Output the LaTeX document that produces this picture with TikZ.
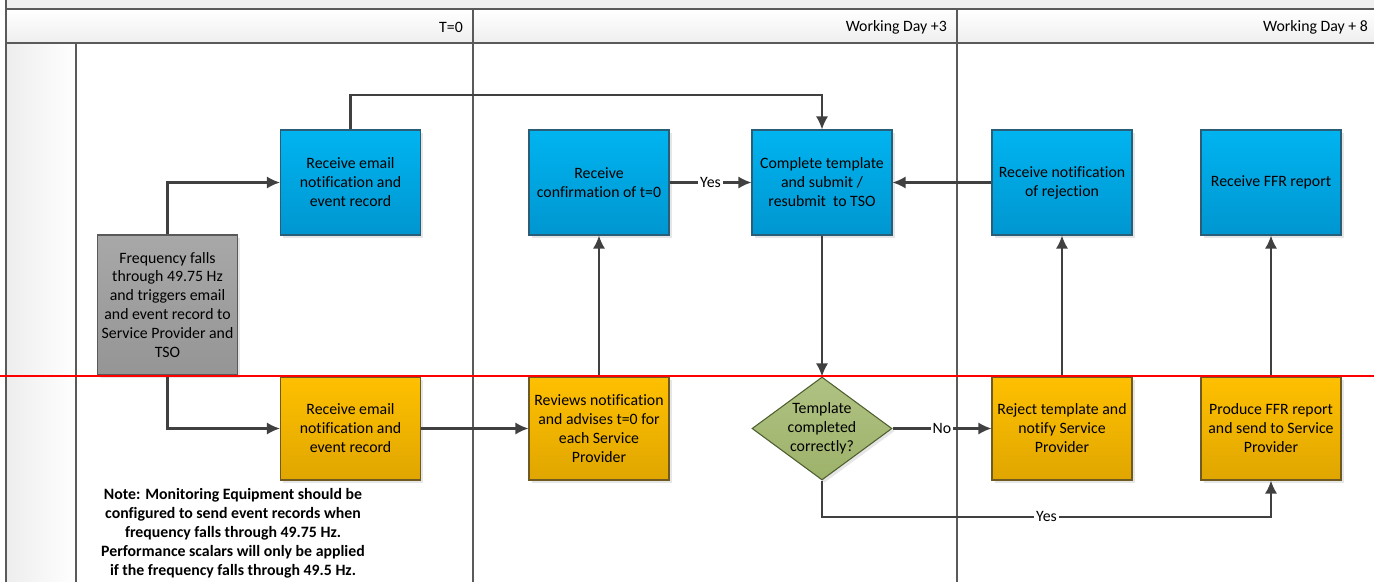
\documentclass[tikz,border=0pt]{standalone}
\usepackage{fontspec}
\setmainfont{Carlito}[Ligatures=NoCommon]
\usetikzlibrary{shapes.geometric,arrows.meta,shadows}

\definecolor{bluetop}{HTML}{00B4F0}
\definecolor{bluebot}{HTML}{0096D0}
\definecolor{blueedge}{HTML}{2A5D78}
\definecolor{orangetop}{HTML}{FFC000}
\definecolor{orangebot}{HTML}{E0A600}
\definecolor{orangeedge}{HTML}{6F5A22}
\definecolor{greytop}{HTML}{A8A8A8}
\definecolor{greybot}{HTML}{959595}
\definecolor{greyedge}{HTML}{595959}
\definecolor{greentop}{HTML}{B0C283}
\definecolor{greenbot}{HTML}{9DB26A}
\definecolor{greenedge}{HTML}{4E5E2E}
\definecolor{linegrey}{HTML}{404040}
\definecolor{framegrey}{HTML}{5A5A5A}

\begin{document}
\begin{tikzpicture}[x=0.02cm, y=-0.02cm,
  every node/.style={font=\fontsize{9}{10.8}\selectfont, align=center},
  box/.style={minimum width=2.8cm, minimum height=2.1cm, inner sep=0pt, line width=0.6pt,
    drop shadow={opacity=0.2, shadow xshift=1.5pt, shadow yshift=-1.5pt}},
  bluebox/.style={box, draw=blueedge, top color=bluetop, bottom color=bluebot},
  orangebox/.style={box, minimum height=2.06cm, draw=orangeedge, top color=orangetop, bottom color=orangebot},
  greybox/.style={box, draw=greyedge, top color=greytop, bottom color=greybot},
  decision/.style={diamond, draw=greenedge, line width=0.6pt, top color=greentop, bottom color=greenbot,
    minimum width=2.8cm, minimum height=2.06cm, inner sep=0pt, aspect=1.36,
    drop shadow={opacity=0.2, shadow xshift=1.5pt, shadow yshift=-1.5pt}},
  arr/.style={->, >={Latex[length=7.5pt,width=7pt]}, draw=linegrey, line width=1.15pt},
  lbl/.style={fill=white, inner sep=1pt},
  frame/.style={draw=framegrey, line width=0.85pt}]

\useasboundingbox (0,0) rectangle (1374,582);

% lanes
\fill[gray!12] (6,0) rectangle (1374,9);
\shade[top color=white, bottom color=gray!13] (6,9) rectangle (1374,43);
\shade[left color=gray!14, right color=white] (6,43) rectangle (76,582);
\draw[frame] (6,0) -- (6,582);
\draw[frame] (6,9) -- (1374,9);
\draw[frame] (6,43) -- (1374,43);
\draw[frame] (76,43) -- (76,582);
\draw[frame] (473,9) -- (473,582);
\draw[frame] (957,9) -- (957,582);

\node[anchor=east] (t0) at (469,27) {T=0};
\node[anchor=east] (wd3) at (953,27) {Working Day +3};
\node[anchor=east] (wd8) at (1374,27) {Working Day + 8};

% boxes
\node[greybox, minimum height=2.8cm] (freq) at (167.5,305) {Frequency falls\\through 49.75 Hz\\and triggers email\\and event record to\\Service Provider and\\TSO};
\node[bluebox] (mail1) at (350.5,182.5) {Receive email\\notification and\\event record};
\node[orangebox] (mail2) at (350.5,428.5) {Receive email\\notification and\\event record};
\node[bluebox] (conf) at (599,182.5) {Receive\\confirmation of t=0};
\node[orangebox] (review) at (599,428.5) {Reviews notification\\and advises t=0 for\\each Service\\Provider};
\node[bluebox] (submit) at (822,182.5) {Complete template\\and submit /\\resubmit\ \ to TSO};
\node[decision] (check) at (822,428.5) {Template\\completed\\correctly?};
\node[bluebox] (rejrec) at (1062,182.5) {Receive notification\\of rejection};
\node[orangebox] (reject) at (1062,428.5) {Reject template and\\notify Service\\Provider};
\node[bluebox] (ffrrec) at (1271,182.5) {Receive FFR report};
\node[orangebox] (ffr) at (1271,428.5) {Produce FFR report\\and send to Service\\Provider};

\node[font=\fontsize{9}{10.8}\selectfont\bfseries] (note) at (233,533) {Note: Monitoring Equipment should be\\configured to send event records when\\frequency falls through 49.75 Hz.\\Performance scalars will only be applied\\if the frequency falls through 49.5 Hz.};

% connectors
\draw[arr] (freq.north) |- (mail1.west);
\draw[arr] (freq.south) |- (mail2.west);
\draw[arr] (mail1.north) -- ++(0,-34) -| (submit.north);
\draw[arr] (mail2.east) -- (review.west);
\draw[arr] (review.north) -- (conf.south);
\draw[arr] (conf.east) -- node[lbl] {Yes} (submit.west);
\draw[arr] (submit.south) -- (check.north);
\draw[arr] (check.east) -- node[lbl] {No} (reject.west);
\draw[arr] (check.south) -- ++(0,36) -| node[lbl, pos=0.25] {Yes} (ffr.south);
\draw[arr] (reject.north) -- (rejrec.south);
\draw[arr] (rejrec.west) -- (submit.east);
\draw[arr] (ffr.north) -- (ffrrec.south);

\draw[red, line width=1.1pt] (0,376) -- (1374,376);
\end{tikzpicture}
\end{document}
